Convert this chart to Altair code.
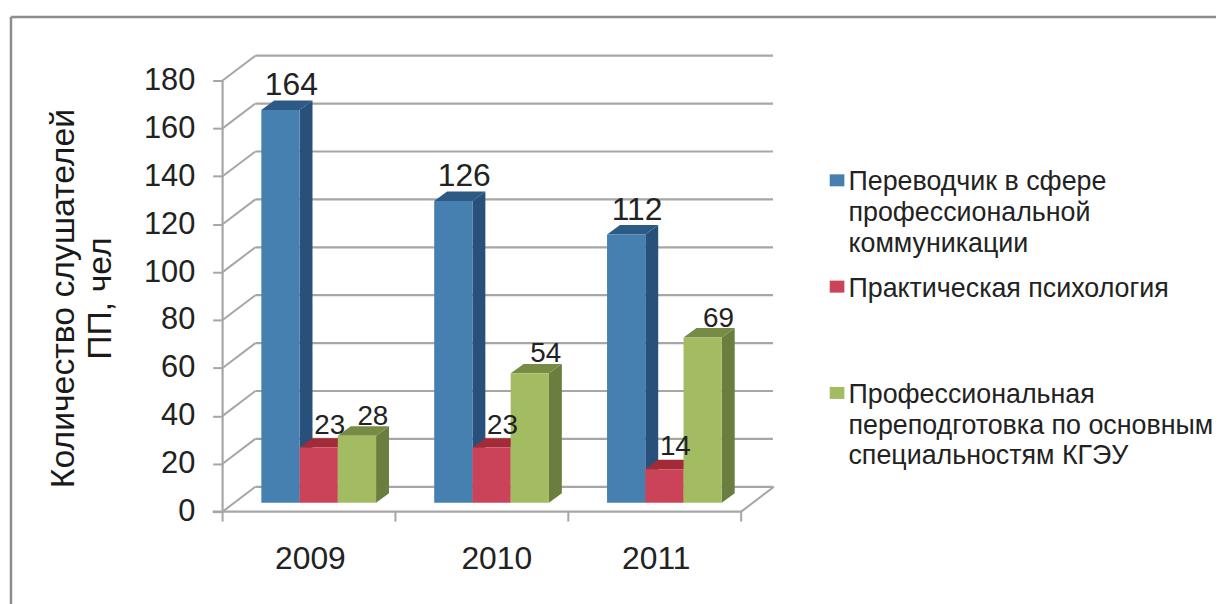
import altair as alt
import pandas as pd

years = [2009, 2010, 2011]
series = ["Переводчик в сфере\nпрофессиональной\nкоммуникации",
          "Практическая психология",
          "Профессиональная\nпереподготовка по основным\nспециальностям КГЭУ"]
values = [[164, 126, 112], [23, 23, 14], [28, 54, 69]]
front_colors = ["#4580B0", "#CB4358", "#A3BC62"]
side_colors = ["#27507A", "#8F2A38", "#6A7F3F"]
top_colors = ["#2C5A85", "#A32B38", "#768C45"]
y_ticks = [0, 20, 40, 60, 80, 100, 120, 140, 160, 180]
year_label_pos = [0.505, 1.583, 2.506]
y_title = ["Количество слушателей", "ПП, чел"]
label_sizes = [32, 28, 28]
label_dx = [11, 11, 16]
label_dy = [-25, -22, -19]

PW, PH = 554, 459
PX_X, PX_Y = 174, 2.411
XMAX, YMAX = PW / PX_X, PH / PX_Y
WALL_DX, WALL_DY = 33 / PX_X, 25 / PX_Y
BAR_W, BAR_L = 38.5 / PX_X, 39 / PX_X
BAR_BASE = 9 / PX_Y
BAR_DX, BAR_DY = 13 / PX_X, 9.5 / PX_Y

xs = alt.Scale(domain=[0, XMAX], nice=False, zero=False)
ys = alt.Scale(domain=[0, YMAX], nice=False, zero=False)
GRID = "#a6a6a6"

front, side, top = [], [], []
for si, name in enumerate(series):
    for ci, v in enumerate(values[si]):
        L = ci + BAR_L + si * BAR_W
        R = L + BAR_W
        b, t = BAR_BASE, v + BAR_BASE
        key = f"{si}-{ci}"
        front.append(dict(s=si, series=name, val=v, L=L, R=R, b=b, t=t, c=(L + R) / 2))
        side += [dict(s=si, key=key, x=R, hi=t, lo=b),
                 dict(s=si, key=key, x=R + BAR_DX, hi=t + BAR_DY, lo=b + BAR_DY)]
        top += [dict(s=si, key=key, x=L, hi=t, lo=t),
                dict(s=si, key=key, x=L + BAR_DX, hi=t + BAR_DY, lo=t),
                dict(s=si, key=key, x=R, hi=t + BAR_DY, lo=t),
                dict(s=si, key=key, x=R + BAR_DX, hi=t + BAR_DY, lo=t + BAR_DY)]
front, side, top = pd.DataFrame(front), pd.DataFrame(side), pd.DataFrame(top)

wall = pd.DataFrame([dict(x=WALL_DX, x2=XMAX, y=v + WALL_DY) for v in y_ticks])
slant = pd.DataFrame([dict(k=v, x=p * WALL_DX, y=v + p * WALL_DY) for v in y_ticks for p in (0, 1)]
                     + [dict(k=-1, x=3 + p * WALL_DX, y=p * WALL_DY) for p in (0, 1)])
cat_ticks = pd.DataFrame(dict(x=[0, 1, 2, 3]))

X = lambda f: alt.X(f, type="quantitative", scale=xs, title=None)
Y = lambda f: alt.Y(f, type="quantitative", scale=ys, title=y_title)

axes = alt.Chart(pd.DataFrame(dict(x=[0], y=[0]))).mark_point(opacity=0).encode(
    x=alt.X("x:Q", scale=xs,
            axis=alt.Axis(values=year_label_pos, labelExpr="floor(datum.value)+2009", title=None,
                          domain=False, ticks=False, grid=False, labelFontSize=32, labelPadding=32,
                          labelFont="Liberation Sans", labelColor="#222222")),
    y=alt.Y("y:Q", scale=ys, title=y_title,
            axis=alt.Axis(values=y_ticks, format="d", domain=False, grid=False, tickColor=GRID, tickWidth=2,
                          tickSize=10, labelPadding=18, labelFontSize=31, labelFont="Liberation Sans",
                          labelColor="#222222",
                          titleFont="Liberation Sans", titleFontSize=34, titleFontWeight="normal",
                          titleColor="#1a1a1a", titleLineHeight=37, titleX=-143, titleY=244)),
)

layers = [axes]
layers.append(alt.Chart(wall).mark_rule(color=GRID, strokeWidth=2.2).encode(x=X("x"), x2="x2", y=Y("y")))
layers.append(alt.Chart(slant).mark_line(color=GRID, strokeWidth=2).encode(x=X("x"), y=Y("y"), detail="k:N"))
layers.append(alt.Chart(pd.DataFrame(dict(x=[0], y=[0], y2=[180]))).mark_rule(color=GRID, strokeWidth=2.2)
              .encode(x=X("x"), y=Y("y"), y2="y2"))
layers.append(alt.Chart(pd.DataFrame(dict(x=[-10 / PX_X], x2=[3], y=[0]))).mark_rule(color=GRID, strokeWidth=2.2)
              .encode(x=X("x"), x2="x2", y=Y("y")))
layers.append(alt.Chart(cat_ticks).mark_rule(color=GRID, strokeWidth=2)
              .encode(x=X("x"), y=alt.value(PH), y2=alt.value(PH + 10)))

for si in range(len(series)):
    layers.append(alt.Chart(side[side.s == si]).mark_area(color=side_colors[si], interpolate="linear")
                  .encode(x=X("x"), y=Y("hi"), y2="lo", detail="key:N"))
    layers.append(alt.Chart(top[top.s == si]).mark_area(color=top_colors[si], interpolate="linear")
                  .encode(x=X("x"), y=Y("hi"), y2="lo", detail="key:N"))
    layers.append(alt.Chart(front[front.s == si]).mark_rect().encode(
        x=X("L"), x2="R", y=Y("t"), y2="b",
        color=alt.Color("series:N", scale=alt.Scale(domain=series, range=front_colors),
                        legend=alt.Legend(title=None, orient="none", legendX=603, legendY=101,
                                          symbolType="M-0.8,0.74H1.4V2.54H-0.8Z", symbolSize=180,
                                          symbolStrokeWidth=0,
                                          labelFont="Liberation Sans", labelFontSize=27, labelColor="#222222",
                                          labelBaseline="top", labelLimit=420, labelOffset=0,
                                          gridAlign="all", rowPadding=5, columns=1,
                                          labelExpr="split(datum.label, '\\n')"))))

for si in range(len(series)):
    layers.append(alt.Chart(front[front.s == si]).mark_text(
        font="Liberation Sans", fontSize=label_sizes[si], color="#222222", dx=label_dx[si], dy=label_dy[si])
        .encode(x=X("c"), y=Y("t"), text="val:Q"))

# picture frame
layers.append(alt.Chart(pd.DataFrame(dict(a=[0]))).mark_rule(color="#8c8c8c", strokeWidth=2.5)
              .encode(x=alt.value(-213), x2=alt.value(1000), y=alt.value(-39)))
layers.append(alt.Chart(pd.DataFrame(dict(a=[0]))).mark_rule(color="#8c8c8c", strokeWidth=2.5)
              .encode(x=alt.value(-213), y=alt.value(-39), y2=alt.value(560)))

chart = (alt.layer(*layers)
         .resolve_scale(color="shared")
         .properties(width=PW, height=PH, autosize="none", background="white",
                     padding={"left": 216, "top": 46, "right": 451, "bottom": 91})
         .configure_view(stroke=None))
chart.config.style = {"guide-label": {"lineHeight": 31}}
chart.save("out.html", embed_options={"renderer": "svg", "actions": False})
